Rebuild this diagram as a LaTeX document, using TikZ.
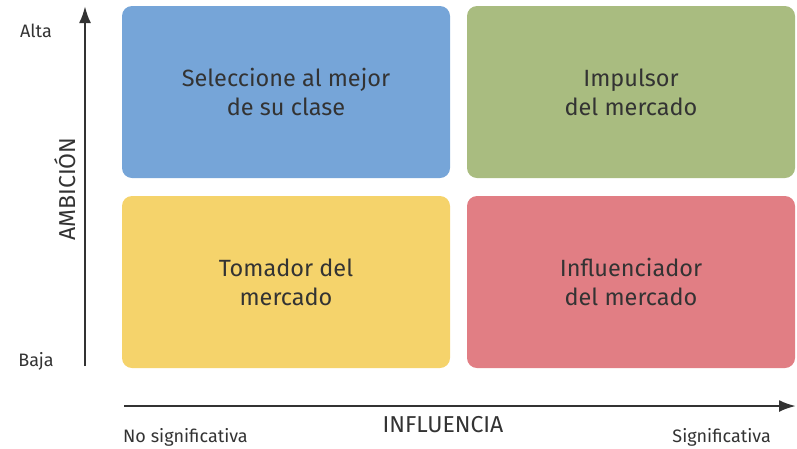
\documentclass[tikz,border=0pt]{standalone}
\usepackage{fontspec}
\setmainfont{Fira Sans}
\usetikzlibrary{arrows.meta}

\definecolor{cajaAzul}{HTML}{76A5D8}
\definecolor{cajaVerde}{HTML}{A9BC80}
\definecolor{cajaAmarilla}{HTML}{F5D36B}
\definecolor{cajaRoja}{HTML}{E17E84}
\definecolor{texto}{HTML}{333333}

\begin{document}
\begin{tikzpicture}[
        x=1pt, y=-1pt, % coordenadas en pixeles
        caja/.style={rounded corners=10pt, minimum width=328pt, minimum height=172pt,
            align=center, text=texto, font=\fontsize{23.5}{29}\selectfont, inner sep=0pt},
        eje/.style={draw=texto, line width=2.5pt, -{Latex[length=17pt, width=12pt]}},
        etiqueta/.style={text=texto, font=\fontsize{18}{21}\selectfont, inner sep=0pt},
        titulo/.style={text=texto, font=\fontsize{23}{26}\selectfont, inner sep=0pt},
    ]
    \useasboundingbox (0,0) rectangle (797,448);

    % cuadrantes
    \node[caja, fill=cajaAzul] (mejor) at (286,92) {Seleccione al mejor\\de su clase};
    \node[caja, fill=cajaVerde] (impulsor) at (631,92) {Impulsor\\del mercado};
    \node[caja, fill=cajaAmarilla] (tomador) at (286,282) {Tomador del\\mercado};
    \node[caja, fill=cajaRoja] (influenciador) at (631,282) {Influenciador\\del mercado};

    % ejes
    \coordinate (ejeY0) at (85,366);
    \coordinate (ejeY1) at (85,6);
    \coordinate (ejeX0) at (124,406);
    \coordinate (ejeX1) at (796,406);
    \draw[eje] (ejeY0) -- (ejeY1);
    \draw[eje] (ejeX0) -- (ejeX1);

    % textos de los ejes
    \node[etiqueta] (alta) at (36,31) {Alta};
    \node[etiqueta] (baja) at (36,361) {Baja};
    \node[titulo, rotate=90] (ambicion) at (65,189) {AMBICIÓN};
    \node[titulo] (influencia) at (443,425) {INFLUENCIA};
    \node[etiqueta, anchor=west] (nosig) at (123,437) {No significativa};
    \node[etiqueta, anchor=east] (sig) at (771,437) {Significativa};
\end{tikzpicture}
\end{document}
